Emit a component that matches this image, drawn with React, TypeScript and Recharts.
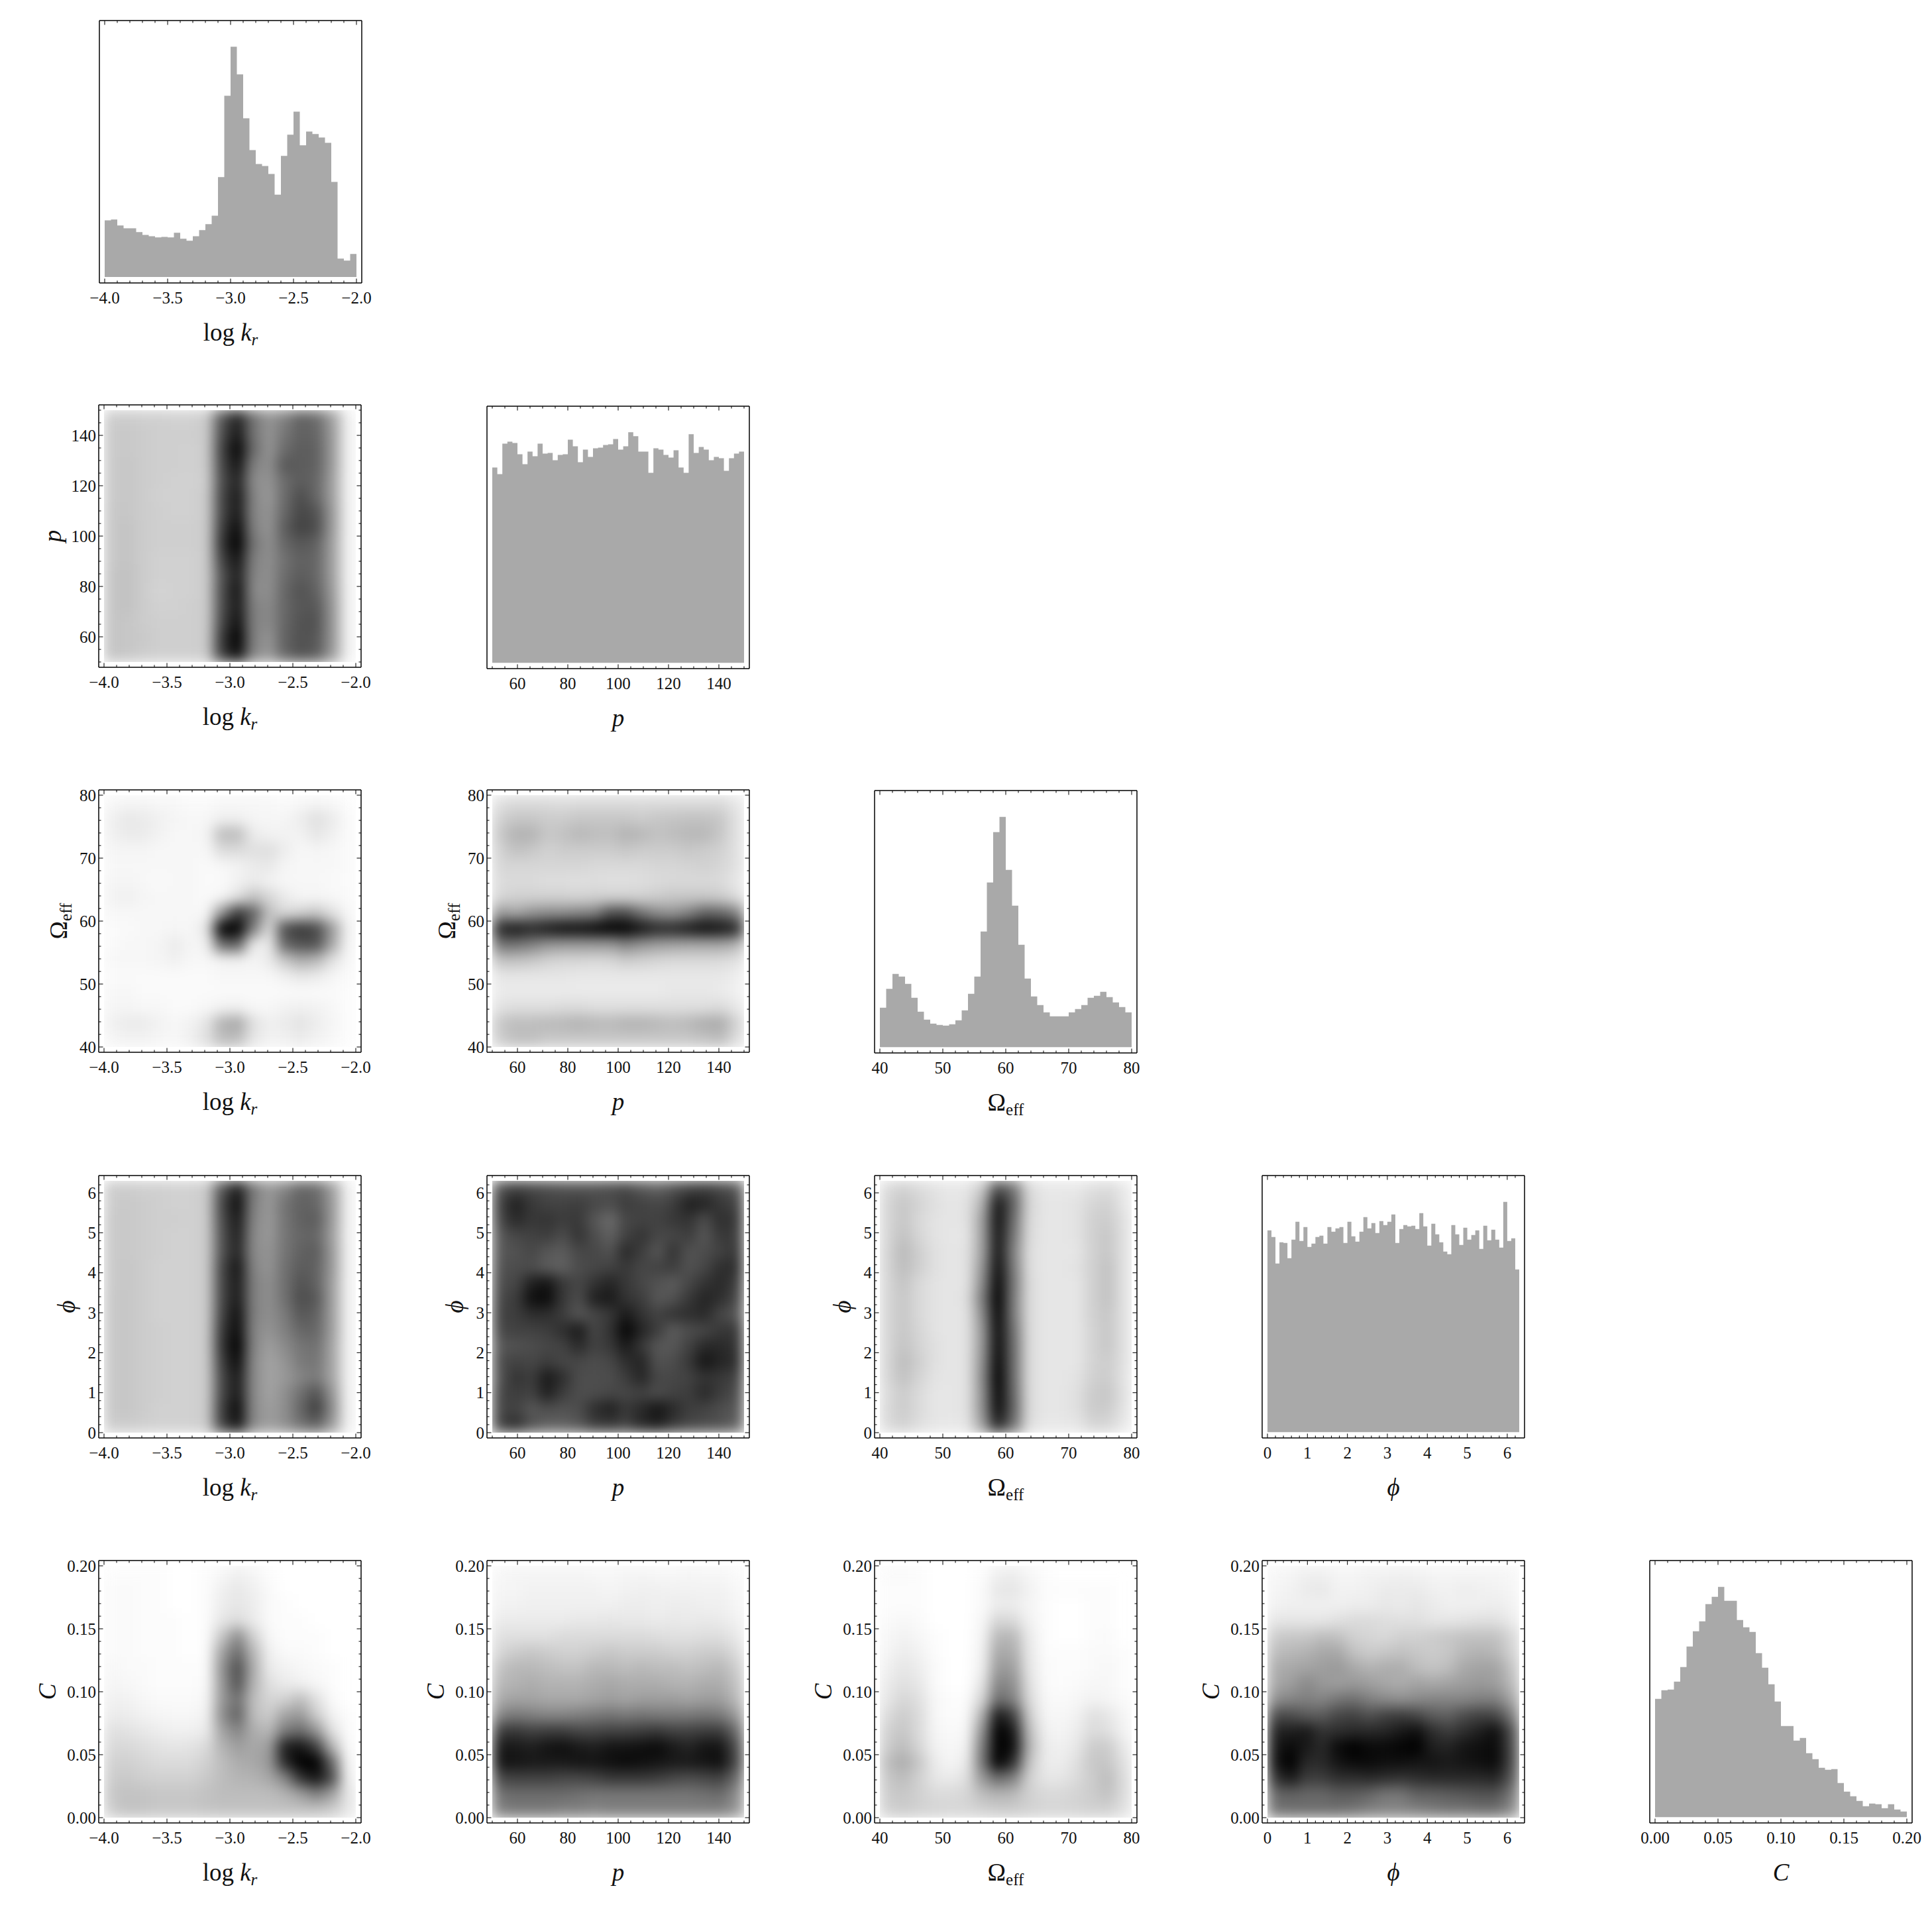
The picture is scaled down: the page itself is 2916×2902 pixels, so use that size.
import { AreaChart, Area, ScatterChart, Scatter, XAxis, YAxis } from "recharts";

// histogram heights, one per bin
const logkBins = [249,252,226,214,214,197,185,179,174,176,174,194,168,159,179,206,232,269,438,795,1010,889,696,557,496,487,452,361,531,624,725,578,638,627,612,589,417,81,72,101];
const pBins = [884,854,992,1001,995,944,899,956,935,992,947,950,917,941,944,1010,980,908,965,932,971,974,986,989,1013,965,980,1043,1025,956,956,860,971,965,941,929,962,884,860,1034,950,977,965,917,932,926,869,926,947,956];
const omegaBins = [179,264,332,320,287,224,161,125,107,101,98,104,122,167,242,320,524,746,974,1043,803,641,464,311,230,191,158,140,140,140,158,173,191,224,233,251,227,203,182,158];
const phiBins = [914,884,764,860,857,788,872,953,866,929,839,854,884,890,854,929,908,923,929,857,953,887,863,908,974,923,947,902,956,938,953,986,857,920,938,932,935,920,992,932,845,944,896,860,818,806,938,896,848,926,872,893,914,830,935,869,917,872,836,1043,866,878,737];
const cBins = [536,575,578,614,680,773,842,887,965,998,1043,980,980,893,860,839,743,677,602,524,413,413,347,359,290,263,224,215,218,155,116,95,74,50,62,59,41,59,35,26];

// density panels: darkness 0-100, rows run from the top of the panel down
const pVsLogk = [
  [20,20,19,19,18,18,20,66,86,55,42,50,62,58,38,5],
  [21,21,20,19,19,19,20,70,90,55,42,54,62,60,40,5],
  [21,21,20,19,19,18,20,74,98,58,42,58,64,62,40,5],
  [21,22,20,19,19,18,20,72,92,50,44,66,64,62,40,5],
  [21,22,20,19,18,18,19,70,86,45,42,58,64,60,38,5],
  [21,22,20,18,18,18,20,72,90,48,40,58,70,60,38,5],
  [22,22,20,19,18,18,20,72,90,48,42,60,72,68,40,5],
  [22,23,20,19,19,19,20,76,96,50,42,64,74,70,40,5],
  [22,23,20,19,19,19,20,80,100,54,44,60,66,62,38,5],
  [22,23,20,18,18,18,20,74,92,50,44,56,62,60,38,5],
  [23,24,20,18,18,18,20,68,88,48,44,58,64,60,38,5],
  [23,24,20,17,18,18,20,70,92,46,44,60,68,62,40,5],
  [23,24,20,18,18,19,20,70,90,50,46,60,66,66,42,5],
  [23,22,20,19,19,19,20,72,94,50,46,60,68,68,42,5],
  [23,22,21,19,19,19,20,78,100,50,42,62,68,66,42,5],
  [23,22,20,19,19,19,20,76,95,48,40,60,68,64,40,5],
];
const omegaVsLogk = [
  [3,4,4,3,3,2,2,3,3,3,3,2,3,4,3,1],
  [6,9,8,6,4,3,3,6,6,4,3,4,7,12,8,2],
  [6,8,8,5,3,3,4,26,26,8,5,5,5,10,6,2],
  [4,4,4,3,3,3,3,14,14,12,13,7,3,4,3,2],
  [3,3,3,3,3,3,2,3,5,8,9,4,3,3,3,2],
  [4,4,3,2,3,3,2,2,5,8,5,3,3,3,2,2],
  [5,6,4,3,3,3,2,4,12,24,16,8,4,4,3,2],
  [3,3,3,3,3,3,3,42,78,62,25,15,18,22,12,3],
  [2,2,3,3,4,3,10,100,100,50,14,70,78,72,40,5],
  [2,3,3,4,8,4,5,58,62,8,8,60,68,68,35,4],
  [3,3,3,4,6,3,3,5,6,4,8,22,32,28,12,3],
  [2,2,2,2,2,2,2,3,3,3,3,6,10,8,4,2],
  [3,3,2,2,2,2,2,2,2,2,2,2,2,2,2,1],
  [4,4,3,3,2,2,3,5,6,3,3,5,6,5,3,1],
  [6,8,8,5,3,5,10,30,34,12,6,8,11,7,4,1],
  [4,5,5,4,3,6,12,26,26,10,5,6,8,5,3,1],
];
const omegaVsP = [
  [12,14,14,14,13,14,14,14,14,14,14,14,14,14,14,10],
  [18,22,22,20,20,22,22,22,22,20,22,23,24,24,22,12],
  [22,30,30,22,24,28,26,25,30,28,24,26,28,28,22,12],
  [18,24,22,18,20,20,20,20,22,20,20,20,22,20,18,12],
  [16,16,16,16,16,16,15,15,15,15,16,16,17,18,16,12],
  [14,14,14,13,13,12,13,12,12,13,14,15,15,15,14,10],
  [16,18,18,18,18,17,18,18,18,18,20,22,22,22,20,14],
  [40,35,42,45,45,48,50,70,70,55,45,42,50,62,60,50],
  [85,90,85,90,95,95,98,100,100,92,85,85,90,95,92,85],
  [55,55,50,42,40,40,40,40,48,42,38,36,35,35,35,30],
  [24,24,22,18,16,16,15,16,20,18,16,15,15,15,14,12],
  [10,10,10,10,10,9,9,9,9,9,9,9,9,9,9,7],
  [8,8,8,8,8,8,8,8,8,8,8,9,9,9,8,6],
  [12,13,13,13,14,14,13,13,13,13,13,13,13,13,14,10],
  [22,26,26,27,28,30,28,27,30,30,28,26,28,32,33,18],
  [20,25,25,22,22,22,22,22,22,22,22,22,22,24,26,14],
];
const phiVsLogk = [
  [20,20,19,19,18,18,20,66,88,52,40,48,60,58,38,5],
  [20,21,20,19,18,18,20,72,95,50,40,55,62,60,40,5],
  [21,21,20,19,19,18,20,70,90,48,40,54,62,64,40,5],
  [21,21,20,19,18,18,20,68,88,46,40,54,60,60,38,5],
  [21,21,20,19,18,18,20,68,86,46,42,54,62,64,40,5],
  [21,22,20,18,18,18,20,72,92,48,42,56,64,62,40,5],
  [21,22,20,18,18,18,20,72,90,50,44,56,68,62,38,5],
  [22,22,20,18,18,18,20,72,90,50,44,56,70,66,38,5],
  [22,22,20,18,18,18,20,74,94,50,44,52,66,62,38,5],
  [22,22,20,19,18,18,20,78,96,48,42,50,60,60,38,5],
  [22,22,20,19,18,18,20,80,100,48,38,46,54,56,36,5],
  [22,22,20,19,18,18,20,76,96,46,36,42,52,54,36,5],
  [22,22,20,19,18,18,20,72,90,46,36,40,48,52,36,5],
  [22,22,20,19,18,18,20,72,90,46,36,44,56,68,42,5],
  [22,22,20,18,18,18,20,76,96,46,38,44,60,76,46,5],
  [20,20,19,18,18,18,20,74,92,46,38,44,55,62,40,5],
];
const phiVsP = [
  [68,75,72,70,68,68,68,70,72,66,62,68,74,76,72,66],
  [74,88,78,74,74,76,72,70,76,74,72,76,88,86,78,74],
  [72,84,78,80,76,78,66,58,72,74,74,78,80,70,82,78],
  [66,72,74,76,70,80,70,62,74,80,72,72,76,66,78,76],
  [66,68,72,66,64,72,72,68,84,76,66,80,68,70,74,78],
  [68,70,70,64,62,70,72,74,78,72,74,76,68,72,82,82],
  [70,72,88,92,78,72,80,86,78,72,68,64,72,80,84,76],
  [72,76,94,96,78,70,88,90,80,76,66,68,78,86,82,72],
  [74,76,82,82,76,66,72,78,90,80,74,80,82,84,72,66],
  [72,74,74,76,82,90,72,80,98,86,76,64,70,72,78,78],
  [66,68,70,72,74,84,74,78,90,78,66,66,74,84,84,80],
  [70,74,72,76,72,72,70,72,82,86,68,70,78,92,86,82],
  [68,80,76,90,82,70,70,70,76,86,72,72,74,80,78,74],
  [72,76,74,88,76,70,70,72,72,74,70,74,76,84,76,70],
  [72,74,66,70,68,70,82,88,78,84,92,84,76,74,70,66],
  [74,82,68,62,62,66,76,78,74,84,88,78,72,70,68,62],
];
const phiVsOmega = [
  [14,18,14,11,9,10,20,70,55,14,9,9,9,12,14,9],
  [16,22,17,12,10,11,30,92,62,16,10,10,11,16,18,10],
  [16,22,15,11,10,11,36,94,58,15,10,10,11,18,20,12],
  [16,24,16,11,10,10,36,92,54,14,10,10,11,18,22,12],
  [17,27,19,12,10,11,36,92,50,13,10,10,10,18,22,12],
  [17,26,19,12,10,11,40,95,52,13,10,10,11,18,24,12],
  [16,23,15,11,10,11,44,98,54,14,10,10,10,18,24,12],
  [16,22,15,11,10,12,50,100,52,14,10,10,10,18,24,12],
  [16,22,15,11,10,11,44,98,52,14,10,10,10,18,22,12],
  [16,22,16,11,10,11,40,96,56,14,10,10,10,17,22,12],
  [16,23,17,12,10,11,40,96,58,14,10,10,10,17,22,12],
  [16,26,19,12,10,11,42,98,58,14,10,10,10,17,20,12],
  [16,24,17,11,10,11,44,100,58,14,10,10,11,18,20,11],
  [14,20,14,10,10,11,42,98,60,14,10,10,12,20,22,12],
  [15,20,14,10,10,11,42,96,62,14,10,10,12,20,20,11],
  [14,18,13,10,9,10,36,85,56,13,9,9,10,16,16,9],
];
const cVsLogk = [
  [1,1,1,1,0,0,1,3,6,4,1,0,0,0,0,0],
  [2,2,1,1,0,0,1,6,9,6,2,0,0,0,0,0],
  [2,2,1,1,0,0,1,7,10,7,2,1,0,0,0,0],
  [2,2,1,1,1,0,1,10,14,8,2,1,1,0,0,0],
  [2,2,1,1,1,0,1,22,45,18,3,1,1,1,0,0],
  [2,2,1,1,1,0,1,36,58,28,6,2,2,1,0,0],
  [3,2,2,1,1,1,1,42,70,32,8,5,3,2,1,0],
  [4,3,2,1,1,1,2,40,68,30,12,8,6,3,1,0],
  [6,5,3,2,2,2,3,40,56,26,16,18,26,12,2,0],
  [8,7,5,4,3,3,5,44,62,26,20,36,40,20,5,1],
  [12,11,9,7,6,6,8,36,48,32,28,52,58,42,12,1],
  [15,15,13,11,10,11,14,30,38,34,38,88,92,75,30,2],
  [18,18,16,14,14,14,18,26,32,34,40,84,100,100,60,4],
  [20,21,19,18,18,18,21,26,29,30,34,48,80,92,70,6],
  [22,24,23,22,22,22,24,26,26,26,26,30,38,50,38,10],
  [20,24,23,22,22,22,23,24,24,24,24,24,24,24,20,10],
];
const cVsP = [
  [3,4,4,4,4,4,3,3,4,4,3,3,4,3,3,2],
  [4,4,5,5,5,5,5,4,5,6,6,5,5,5,5,3],
  [5,5,6,6,6,6,6,6,7,7,6,7,7,6,6,4],
  [8,8,8,8,8,9,9,10,9,9,8,9,8,9,8,6],
  [12,12,12,12,14,14,14,14,14,14,13,12,12,13,13,9],
  [16,20,22,20,18,18,20,22,20,20,20,18,18,20,20,14],
  [24,28,28,26,24,24,28,28,26,28,26,26,24,26,28,20],
  [28,30,32,30,30,30,32,34,32,32,32,30,30,32,32,24],
  [34,36,36,34,34,34,36,38,36,38,38,38,36,38,38,28],
  [48,52,50,48,48,50,52,54,52,54,52,52,52,54,52,40],
  [76,78,74,76,76,72,72,74,74,76,78,74,74,76,76,58],
  [90,90,88,92,94,90,88,92,92,94,96,90,86,92,92,70],
  [92,92,90,90,90,92,92,94,96,94,92,90,90,92,94,72],
  [72,74,74,74,72,72,74,78,78,78,76,72,70,72,74,58],
  [56,58,58,58,58,56,54,54,54,54,54,54,54,56,58,46],
  [50,52,52,52,50,50,48,50,50,50,50,50,50,50,50,42],
];
const cVsOmega = [
  [2,2,1,0,0,0,1,6,7,3,1,0,0,0,0,0],
  [1,1,1,0,0,0,2,9,10,5,1,1,1,1,1,0],
  [1,1,1,0,0,0,2,7,7,4,1,0,0,1,1,0],
  [2,3,2,0,0,0,3,16,15,5,1,0,0,1,1,0],
  [3,5,3,1,0,0,4,28,28,8,1,0,0,1,2,0],
  [4,7,5,1,0,0,5,34,32,9,1,1,1,2,2,1],
  [6,10,7,2,0,0,6,40,38,10,2,1,1,2,3,1],
  [8,12,9,2,0,0,10,48,44,12,2,1,2,3,3,1],
  [10,16,12,3,1,1,16,58,50,15,3,2,3,5,4,2],
  [14,20,14,3,1,2,30,90,75,20,4,3,5,12,10,4],
  [18,22,14,4,2,3,42,100,90,26,6,4,7,14,12,5],
  [20,26,16,5,3,5,50,100,95,30,8,6,9,20,20,9],
  [26,32,22,8,4,8,52,100,82,24,8,7,12,22,22,12],
  [22,26,18,10,8,12,40,58,50,18,10,10,14,20,26,14],
  [20,22,18,14,14,16,26,30,28,18,15,15,17,20,24,14],
  [18,20,18,17,16,16,18,20,20,18,16,16,17,18,18,12],
];
const cVsPhi = [
  [3,4,6,6,4,4,5,5,6,5,4,4,4,4,4,3],
  [4,5,8,9,5,5,6,8,8,8,6,5,7,6,5,4],
  [5,6,6,6,6,7,7,9,8,10,8,6,6,6,7,5],
  [10,10,10,10,12,14,14,13,12,12,10,10,11,12,12,8],
  [20,22,22,26,24,18,16,15,18,18,20,22,24,24,24,16],
  [26,28,30,34,34,24,20,22,24,22,20,22,28,30,28,18],
  [32,34,36,38,40,34,30,32,32,26,23,26,34,36,36,24],
  [34,38,46,40,38,40,38,34,32,36,34,36,38,40,38,28],
  [44,48,50,48,54,56,50,46,44,46,48,48,48,50,50,36],
  [70,70,64,64,72,74,68,74,76,72,64,62,70,74,72,52],
  [86,88,90,80,82,84,84,85,90,94,82,76,82,88,94,70],
  [90,96,90,84,96,100,96,96,98,100,88,86,92,94,96,72],
  [92,100,84,84,92,96,96,94,94,92,92,90,92,94,96,72],
  [80,90,76,76,82,82,84,82,80,82,84,84,84,84,86,66],
  [60,62,60,60,64,64,60,54,54,62,62,64,66,68,68,54],
  [54,56,56,56,56,54,50,48,48,50,52,54,54,56,56,46],
];

const FONT = "'Liberation Serif', serif";
const FRAME = 396;
const INSET = 8;
const ML = 110;
const MT = 10;
const MR = 30;
const MB = 110;
const HIST_FILL = "#a9a9a9";
const colX = [149.3, 734.5, 1319.7, 1904.7];
const rowY = [31.3, 611.3, 1192.3, 1773.7, 2354.6];
const histX = [150.2, 735.3, 1320.3, 1905.3, 2490.3];
const histY = [31.3, 612.7, 1193.3, 1774.3, 2355.3];

// axes need a size of at least 1 to be drawn, so the margins give that pixel back
const chartMargin = { left: ML - 1, top: MT - 1, right: MR - 1, bottom: MB - 1 };

const Sub = ({ children, italic }: any) => (
  <tspan fontSize={25} dy={7} fontStyle={italic ? "italic" : "normal"}>{children}</tspan>
);

const logk = {
  min: -4, max: -2, major: 0.5, minor: 0.1, digits: 1, titleOffset: 0,
  title: <><tspan>log </tspan><tspan fontStyle="italic">k</tspan><Sub italic>r</Sub></>,
};
const p = {
  min: 50, max: 150, major: 20, minor: 5, digits: 0, titleOffset: 57,
  title: <tspan fontStyle="italic">p</tspan>,
};
const omega = {
  min: 40, max: 80, major: 10, minor: 2, digits: 0, titleOffset: 48,
  title: <><tspan>Ω</tspan><Sub>eff</Sub></>,
};
const phi = {
  min: 0, max: 6.3, major: 1, minor: 0.2, digits: 0, titleOffset: 36,
  title: <tspan fontStyle="italic">ϕ</tspan>,
};
const c = {
  min: 0, max: 0.2, major: 0.05, minor: 0.01, digits: 2, titleOffset: 65,
  title: <tspan fontStyle="italic">C</tspan>,
};

function tickValues(v: any) {
  const out: number[] = [];
  const n = Math.floor((v.max - v.min) / v.minor + 1e-6);
  for (let i = 0; i <= n; i++) out.push(Number((v.min + i * v.minor).toFixed(4)));
  return out;
}

function isMajor(value: number, v: any) {
  const r = value / v.major;
  return Math.abs(r - Math.round(r)) < 1e-6;
}

function paddedDomain(v: any) {
  const pad = ((v.max - v.min) * INSET) / (FRAME - 2 * INSET);
  return [v.min - pad, v.max + pad];
}

function FrameTick({ x, y, payload, side, axisVar }: any) {
  const major = isMajor(payload.value, axisVar);
  const len = major ? 6.5 : 3.5;
  const label = payload.value.toFixed(axisVar.digits).replace("-", "−");
  const tc = { stroke: "#111", strokeWidth: 1.1 };
  if (side === "bottom")
    return (
      <g>
        <line x1={x} x2={x} y1={y} y2={y - len} {...tc} />
        {major && <text x={x} y={y + 31} textAnchor="middle" fontFamily={FONT} fontSize={25} fill="#111">{label}</text>}
      </g>
    );
  if (side === "top") return <line x1={x} x2={x} y1={y} y2={y + len} {...tc} />;
  if (side === "left")
    return (
      <g>
        <line x1={x} x2={x + len} y1={y} y2={y} {...tc} />
        {major && <text x={x - 4} y={y + 8.5} textAnchor="end" fontFamily={FONT} fontSize={25} fill="#111">{label}</text>}
      </g>
    );
  return <line x1={x} x2={x - len} y1={y} y2={y} {...tc} />;
}

const axisLineStyle = { stroke: "#000", strokeWidth: 1.5 };

function xAxes(v: any) {
  const shared = {
    type: "number" as const, dataKey: "x", domain: paddedDomain(v), ticks: tickValues(v), interval: 0 as const,
    height: 1, tickSize: 0, tickMargin: 0, tickLine: false, axisLine: axisLineStyle, allowDataOverflow: true,
  };
  return [
    <XAxis key="xb" {...shared} orientation="bottom" tick={(t: any) => <FrameTick {...t} side="bottom" axisVar={v} />} />,
    <XAxis key="xt" {...shared} xAxisId="top" orientation="top" tick={(t: any) => <FrameTick {...t} side="top" axisVar={v} />} />,
  ];
}

function Titles({ xVar, yVar }: any) {
  return (
    <>
      <text x={ML + FRAME / 2} y={MT + FRAME + 87} textAnchor="middle" fontFamily={FONT} fontSize={37} fill="#111">{xVar.title}</text>
      {yVar && (
        <text
          x={ML - yVar.titleOffset}
          y={MT + FRAME / 2}
          textAnchor="middle"
          transform={`rotate(-90 ${ML - yVar.titleOffset} ${MT + FRAME / 2})`}
          fontFamily={FONT}
          fontSize={37}
          fill="#111"
        >
          {yVar.title}
        </text>
      )}
    </>
  );
}

function Hist({ index, v, bins, top }: any) {
  const step = Number(((v.max - v.min) / bins.length).toFixed(4));
  const data = [...bins, bins[bins.length - 1]].map((h: number, i: number) => ({ x: v.min + i * step, h }));
  const yDomain = [-26, top];
  return (
    <div style={{ position: "absolute", left: histX[index] - ML, top: histY[index] - MT }}>
      <AreaChart width={ML + FRAME + MR} height={MT + FRAME + MB} data={data} margin={chartMargin}>
        {xAxes(v)}
        <YAxis type="number" domain={yDomain} width={1} tick={false} tickLine={false} axisLine={axisLineStyle} allowDataOverflow />
        <YAxis yAxisId="right" orientation="right" type="number" domain={yDomain} width={1} tick={false} tickLine={false} axisLine={axisLineStyle} allowDataOverflow />
        <Area
          type="stepAfter"
          dataKey="h"
          baseValue={0}
          fill={HIST_FILL}
          fillOpacity={1}
          stroke="none"
          dot={false}
          activeDot={false}
          isAnimationActive={false}
        />
        <Titles xVar={v} />
      </AreaChart>
    </div>
  );
}

function gridPoints(grid: number[][], xv: any, yv: any) {
  const out: any[] = [];
  grid.forEach((cells, r) =>
    cells.forEach((d, i) => {
      out.push({
        x: xv.min + ((i + 0.5) * (xv.max - xv.min)) / cells.length,
        y: yv.max - ((r + 0.5) * (yv.max - yv.min)) / grid.length,
        d,
      });
    })
  );
  return out;
}

function Density({ col, row, xv, yv, grid }: any) {
  const cw = (FRAME - 2 * INSET) / grid[0].length + 0.7;
  const ch = (FRAME - 2 * INSET) / grid.length + 0.7;
  const yShared = {
    type: "number" as const, domain: paddedDomain(yv), ticks: tickValues(yv), interval: 0 as const,
    width: 1, tickSize: 0, tickMargin: 0, tickLine: false, axisLine: axisLineStyle, allowDataOverflow: true,
  };
  return (
    <div style={{ position: "absolute", left: colX[col] - ML, top: rowY[row] - MT }}>
      <ScatterChart width={ML + FRAME + MR} height={MT + FRAME + MB} margin={chartMargin}>
        {xAxes(xv)}
        <YAxis {...yShared} dataKey="y" orientation="left" tick={(t: any) => <FrameTick {...t} side="left" axisVar={yv} />} />
        <YAxis {...yShared} yAxisId="right" orientation="right" tick={(t: any) => <FrameTick {...t} side="right" axisVar={yv} />} />
        <Scatter
          data={gridPoints(grid, xv, yv)}
          isAnimationActive={false}
          shape={(s: any) => {
            const g = Math.round(255 * (1 - s.payload.d / 100));
            return <rect x={s.cx - cw / 2} y={s.cy - ch / 2} width={cw} height={ch} fill={`rgb(${g},${g},${g})`} />;
          }}
        />
        <Titles xVar={xv} yVar={yv} />
      </ScatterChart>
    </div>
  );
}

export default function App() {
  return (
    <div style={{ position: "absolute", left: 0, top: 0, width: 2916, height: 2902, background: "#fff", overflow: "hidden" }}>
      <style>{`.recharts-scatter { filter: url(#heat-blur); }`}</style>
      <svg width={0} height={0} style={{ position: "absolute" }}>
        <defs>
          <filter
            id="heat-blur"
            filterUnits="userSpaceOnUse"
            x={ML + INSET}
            y={MT + INSET}
            width={FRAME - 2 * INSET}
            height={FRAME - 2 * INSET}
            colorInterpolationFilters="sRGB"
          >
            <feGaussianBlur stdDeviation={10} />
          </filter>
        </defs>
      </svg>

      <Hist index={0} v={logk} bins={logkBins} top={1125} />
      <Hist index={1} v={p} bins={pBins} top={1161} />
      <Hist index={2} v={omega} bins={omegaBins} top={1162} />
      <Hist index={3} v={phi} bins={phiBins} top={1162} />
      <Hist index={4} v={c} bins={cBins} top={1162} />

      <Density col={0} row={1} xv={logk} yv={p} grid={pVsLogk} />
      <Density col={0} row={2} xv={logk} yv={omega} grid={omegaVsLogk} />
      <Density col={1} row={2} xv={p} yv={omega} grid={omegaVsP} />
      <Density col={0} row={3} xv={logk} yv={phi} grid={phiVsLogk} />
      <Density col={1} row={3} xv={p} yv={phi} grid={phiVsP} />
      <Density col={2} row={3} xv={omega} yv={phi} grid={phiVsOmega} />
      <Density col={0} row={4} xv={logk} yv={c} grid={cVsLogk} />
      <Density col={1} row={4} xv={p} yv={c} grid={cVsP} />
      <Density col={2} row={4} xv={omega} yv={c} grid={cVsOmega} />
      <Density col={3} row={4} xv={phi} yv={c} grid={cVsPhi} />
    </div>
  );
}
